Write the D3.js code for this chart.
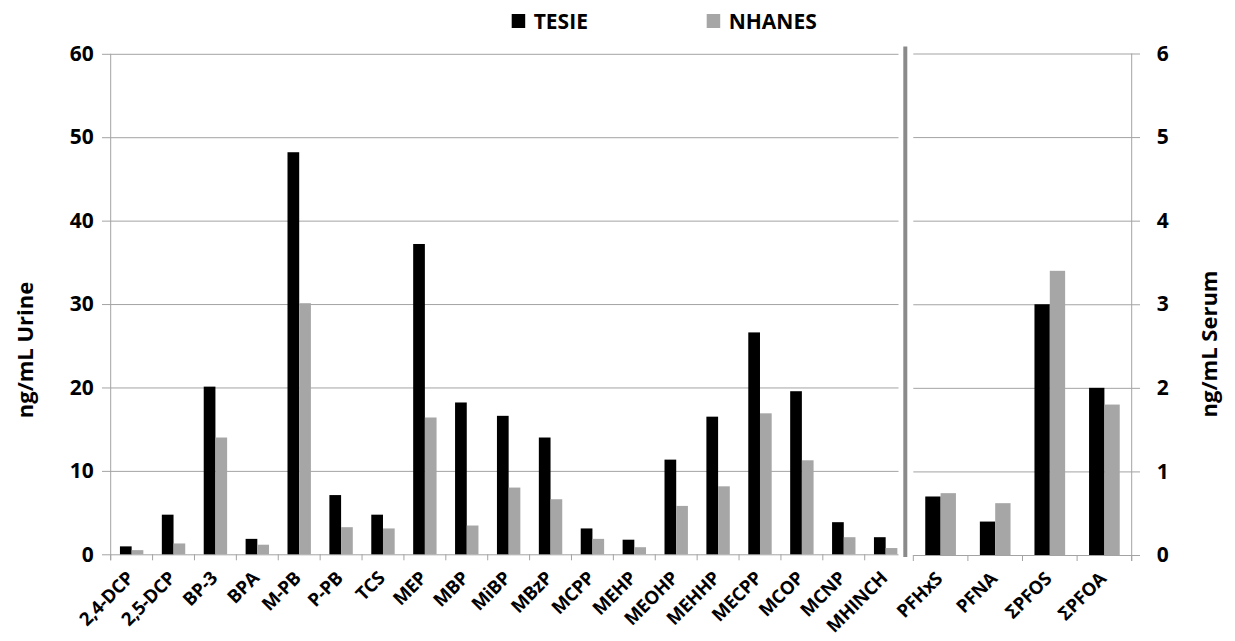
<!DOCTYPE html>
<html>
<head>
<meta charset="utf-8">
<script src="https://cdn.jsdelivr.net/npm/d3@7"></script>
<style>
  body { margin: 0; background: #fff; }
  svg { display: block; font-family: "Open Sans", sans-serif; font-weight: bold; }
</style>
</head>
<body>
<svg width="1235" height="641"></svg>
<script>
// левая панель: моча
const urineCats = ["2,4-DCP", "2,5-DCP", "BP-3", "BPA", "M-PB", "P-PB", "TCS", "MEP", "MBP", "MiBP",
                   "MBzP", "MCPP", "MEHP", "MEOHP", "MEHHP", "MECPP", "MCOP", "MCNP", "MHINCH"];
const urineTesie  = [0.95, 4.75, 20.1, 1.85, 48.2, 7.1, 4.75, 37.2, 18.2, 16.6,
                     14.0, 3.1, 1.75, 11.35, 16.5, 26.6, 19.55, 3.85, 2.05];
const urineNhanes = [0.5, 1.3, 14.0, 1.15, 30.1, 3.25, 3.1, 16.4, 3.45, 8.0,
                     6.6, 1.85, 0.85, 5.8, 8.15, 16.9, 11.27, 2.05, 0.75];
const urineTicks = [0, 10, 20, 30, 40, 50, 60];

// правая панель: сыворотка
const serumCats = ["PFHxS", "PFNA", "ΣPFOS", "ΣPFOA"];
const serumTesie  = [0.70, 0.40, 3.0, 2.0];
const serumNhanes = [0.74, 0.62, 3.40, 1.80];
const serumTicks = [0, 1, 2, 3, 4, 5, 6];

const seriesNames = ["TESIE", "NHANES"];
const colors = { TESIE: "#000000", NHANES: "#a6a6a6" };
const gridColor = "#a3a3a3";

const svg = d3.select("svg");

function toRows(cats, a, b) {
    return cats.map((c, i) => ({ cat: c, values: [
        { key: "TESIE", value: a[i] },
        { key: "NHANES", value: b[i] }
    ]}));
}

function drawPanel(rows, cats, ticks, area) {
    let scX = d3.scaleBand().domain(cats).range([area.x0, area.x1]);
    let scY = d3.scaleLinear().domain([0, d3.max(ticks)]).range([area.y0, area.y1]);

    // сетка
    svg.append("g")
        .attr("transform", `translate(${area.gridL}, 0)`)
        .call(d3.axisRight(scY).tickValues(ticks).tickSize(area.gridR - area.gridL).tickFormat(""))
        .call(g => g.select(".domain").remove())
        .selectAll("line").attr("stroke", gridColor);

    // вертикальная ось
    let axisY = area.side === "left" ? d3.axisLeft(scY) : d3.axisRight(scY);
    svg.append("g")
        .attr("transform", `translate(${area.axisX}, 0)`)
        .call(axisY.tickValues(ticks).tickSize(0).tickPadding(area.pad).tickFormat(d3.format("d")))
        .call(g => g.select(".domain").remove())
        .selectAll("text")
        .style("font-size", "21px")
        .style("font-family", "'Open Sans', sans-serif")
        .style("font-weight", "bold")
        .attr("fill", "#000");

    svg.append("line")
        .attr("x1", area.axisX).attr("x2", area.axisX)
        .attr("y1", scY(d3.max(ticks))).attr("y2", area.y0 + 6)
        .attr("stroke", gridColor);

    // отметки категорий по нижней оси
    let bounds = cats.map(c => scX(c));
    if (area.lastTick) bounds.push(area.x1);
    svg.append("g").selectAll("line")
        .data(bounds).enter().append("line")
        .attr("x1", d => d).attr("x2", d => d)
        .attr("y1", area.y0).attr("y2", area.y0 + 6)
        .attr("stroke", gridColor);

    // подписи категорий
    svg.append("g").selectAll("text")
        .data(cats).enter().append("text")
        .attr("transform", d => `translate(${scX(d) + scX.bandwidth() / 2 + 3}, ${area.y0 + 25}) rotate(-45)`)
        .attr("text-anchor", "end")
        .style("font-size", "18.5px")
        .style("letter-spacing", "-0.3px")
        .text(d => d);

    // столбцы
    let inner = d3.scaleBand().domain(seriesNames)
        .range([0, scX.bandwidth()]).paddingOuter(area.outer).paddingInner(0);
    svg.append("g").selectAll("g")
        .data(rows).enter().append("g")
        .attr("transform", d => `translate(${scX(d.cat)}, 0)`)
        .selectAll("rect")
        .data(d => d.values).enter().append("rect")
        .attr("x", d => inner(d.key))
        .attr("width", inner.bandwidth())
        .attr("y", d => scY(d.value))
        .attr("height", d => scY(0) - scY(d.value))
        .attr("fill", d => colors[d.key]);

    return [scX, scY];
}

drawPanel(toRows(urineCats, urineTesie, urineNhanes), urineCats, urineTicks, {
    x0: 110.7, x1: 906.6, y0: 554.3, y1: 53.8,
    gridL: 102, gridR: 898.5, axisX: 110.7, side: "left", pad: 17, outer: 0.79, lastTick: false
});

drawPanel(toRows(serumCats, serumTesie, serumNhanes), serumCats, serumTicks, {
    x0: 913.3, x1: 1131.7, y0: 555, y1: 53.5,
    gridL: 913.3, gridR: 1140, axisX: 1131.7, side: "right", pad: 25, outer: 0.78, lastTick: true
});

// разделитель панелей
svg.append("rect")
    .attr("x", 903.3).attr("y", 46.5)
    .attr("width", 4).attr("height", 510.5)
    .attr("fill", "#8a8a8a");

// подписи осей
svg.append("text")
    .attr("transform", "translate(25, 350) rotate(-90)")
    .attr("text-anchor", "middle").attr("dy", "0.35em")
    .style("font-size", "22px")
    .text("ng/mL Urine");

svg.append("text")
    .attr("transform", "translate(1209, 344) rotate(-90)")
    .attr("text-anchor", "middle").attr("dy", "0.35em")
    .style("font-size", "22px")
    .text("ng/mL Serum");

// легенда
const legendX = [511.7, 706.7];
let legend = svg.append("g").selectAll("g")
    .data(seriesNames).enter().append("g")
    .attr("transform", (d, i) => `translate(${legendX[i]}, 14)`);
legend.append("rect")
    .attr("width", 13.5).attr("height", 14)
    .attr("fill", d => colors[d]);
legend.append("text")
    .attr("x", 22).attr("y", 7).attr("dy", "0.36em")
    .style("font-size", "21px")
    .text(d => d);
</script>
</body>
</html>
